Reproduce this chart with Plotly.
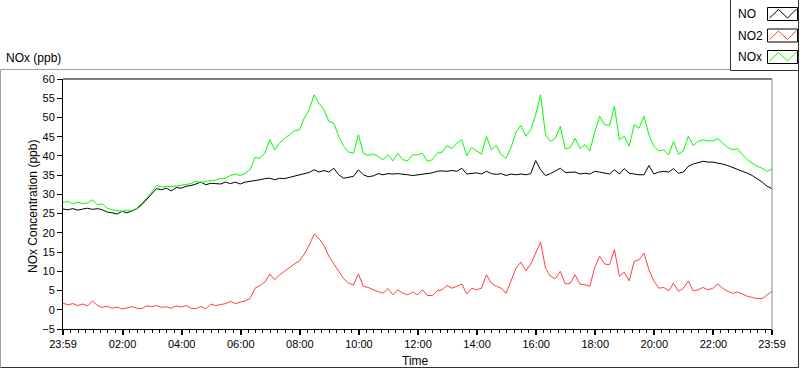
import pandas as pd
import plotly.graph_objects as go

# ---------------- data ----------------
start_time = "2024-01-01 23:59"
end_time = "2024-01-02 23:59"
n_points = 145  # one reading every 10 minutes

no_ppb = [
    26.2, 26.0, 26.3, 25.9, 26.2, 26.4, 26.1, 26.3, 26.0, 25.4, 25.2, 24.9, 25.6, 25.2, 25.7, 26.3, 27.3, 28.6,
    30.1, 31.5, 31.2, 31.6, 30.9, 31.8, 31.6, 32.1, 32.3, 32.7, 33.2, 32.5, 32.9, 32.8, 32.7, 33.2, 32.8, 33.2,
    32.7, 33.2, 33.4, 33.5, 33.8, 34.1, 34.2, 33.8, 34.2, 34.1, 34.4, 34.7, 35.1, 35.3, 35.7, 36.4, 35.8, 36.2,
    35.8, 36.8, 35.1, 34.2, 34.4, 34.7, 36.4, 35.1, 34.6, 34.8, 35.4, 35.1, 35.4, 35.3, 35.4, 35.3, 35.1, 34.9,
    35.1, 35.3, 35.4, 35.6, 36.0, 36.1, 36.0, 36.2, 36.0, 36.8, 35.3, 35.4, 35.6, 35.3, 36.0, 35.4, 35.2, 35.4,
    34.9, 35.3, 35.1, 35.3, 35.1, 35.4, 38.8, 36.4, 34.9, 35.4, 36.0, 36.8, 35.7, 35.8, 35.8, 35.3, 35.5, 35.3,
    36.0, 35.8, 35.5, 35.3, 36.4, 35.3, 36.7, 35.5, 35.3, 35.1, 35.1, 37.5, 35.3, 35.8, 36.0, 35.8, 36.7, 35.5,
    35.8, 37.3, 37.9, 38.2, 38.6, 38.4, 38.4, 38.1, 37.9, 37.5, 37.0, 36.7, 36.1, 35.5, 34.9, 34.1, 33.2, 32.1,
    31.5,
]

no2_ppb = [
    1.7, 1.3, 1.6, 1.1, 1.5, 1.0, 2.3, 1.1, 0.6, 0.9, 0.4, 0.7, 0.2, 0.5, 0.8, 0.4, 0.3, 1.0,
    0.8, 1.1, 0.6, 0.8, 0.4, 1.0, 0.7, 1.1, 0.4, 0.3, 0.9, 0.2, 1.5, 1.1, 1.3, 1.6, 2.2, 1.6,
    2.0, 2.3, 2.9, 5.6, 6.3, 7.2, 9.3, 7.8, 9.1, 10.1, 11.0, 11.9, 12.7, 14.5, 16.7, 19.7, 18.5, 16.7,
    13.9, 12.1, 10.0, 8.1, 6.9, 6.5, 9.3, 6.1, 5.8, 5.2, 4.8, 4.3, 5.5, 3.9, 5.2, 4.3, 3.9, 4.6,
    3.9, 5.2, 3.7, 3.7, 4.9, 5.2, 6.3, 5.6, 6.1, 6.7, 4.1, 5.6, 5.2, 5.6, 9.1, 6.9, 6.1, 5.6,
    4.3, 7.4, 10.8, 12.4, 10.1, 11.9, 14.7, 17.6, 10.8, 8.7, 8.1, 10.0, 6.7, 6.9, 9.1, 6.7, 6.5, 6.1,
    11.0, 13.9, 11.9, 11.7, 15.6, 8.7, 9.8, 7.5, 12.6, 13.0, 14.7, 10.4, 7.5, 5.6, 5.8, 4.9, 6.9, 4.8,
    5.6, 7.5, 4.9, 5.2, 5.8, 5.2, 5.6, 6.7, 5.6, 4.8, 4.3, 4.6, 4.1, 3.5, 3.2, 2.9, 2.9, 3.9,
    4.8,
]

nox_ppb = [
    27.9, 28.2, 27.5, 28.0, 27.6, 27.8, 28.6, 27.3, 27.5, 26.4, 26.0, 25.7, 25.6, 25.9, 25.6, 26.4, 27.6, 29.0,
    30.6, 32.3, 31.9, 32.1, 32.0, 32.2, 32.3, 32.5, 32.8, 33.4, 33.1, 33.4, 33.5, 33.7, 34.1, 34.2, 34.9, 35.3,
    34.9, 35.5, 36.4, 39.6, 39.4, 40.7, 44.2, 41.6, 43.3, 44.6, 45.5, 46.5, 46.8, 49.8, 52.0, 55.9, 53.7, 52.0,
    49.0, 48.5, 45.1, 42.5, 41.0, 40.7, 45.5, 40.7, 40.1, 40.5, 39.9, 39.0, 40.3, 38.7, 40.7, 39.0, 38.7, 40.3,
    40.3, 40.7, 38.6, 39.0, 40.7, 41.0, 42.7, 41.9, 43.3, 44.2, 40.1, 42.2, 41.3, 40.5, 45.1, 41.6, 42.7, 40.3,
    39.4, 42.2, 46.2, 47.9, 45.1, 46.8, 50.7, 55.9, 45.5, 43.8, 44.6, 47.7, 41.9, 42.1, 44.6, 41.9, 42.9, 41.3,
    46.2, 50.3, 48.1, 47.9, 52.9, 44.2, 45.1, 42.5, 48.1, 47.2, 50.3, 45.5, 42.5, 41.3, 41.6, 40.3, 43.8, 40.5,
    41.3, 45.1, 42.7, 43.8, 44.2, 43.9, 43.9, 44.5, 43.3, 42.2, 41.6, 41.9, 40.3, 39.0, 38.1, 37.3, 36.8, 36.0,
    36.6,
]

series_names = ["NO", "NO2", "NOx"]
series_colors = ["#000000", "#ff4040", "#00ff00"]
tick_labels = ["23:59", "02:00", "04:00", "06:00", "08:00", "10:00", "12:00",
               "14:00", "16:00", "18:00", "20:00", "22:00", "23:59"]

# ---------------- figure ----------------
times = pd.date_range(start_time, periods=n_points, freq="10min")
t0, t1 = pd.Timestamp(start_time), pd.Timestamp(end_time)
tick_vals = [t0] + list(pd.date_range("2024-01-02 02:00", "2024-01-02 22:00", freq="2h")) + [t1]
minor_vals = list(pd.date_range("2024-01-02 00:00", "2024-01-02 23:45", freq="15min"))

fig = go.Figure()
for name, color, vals in zip(series_names, series_colors, [no_ppb, no2_ppb, nox_ppb]):
    fig.add_trace(go.Scatter(x=times, y=vals, mode="lines", name=name,
                             line=dict(color=color, width=1), hoverinfo="skip"))

W, H = 800, 369
L, R, T, B = 63, 28, 79, 40
PW, PH = W - L - R, H - T - B


def px(xp):
    return (xp - L) / PW


def py(yp):
    return (H - B - yp) / PH


font = "Liberation Sans, Arial, sans-serif"

fig.update_layout(
    width=W, height=H,
    margin=dict(l=L, r=R, t=T, b=B, pad=0),
    paper_bgcolor="white", plot_bgcolor="white",
    showlegend=False,
    font=dict(family=font, size=11, color="#000000"),
    xaxis=dict(
        type="date", range=[t0, t1],
        tickmode="array", tickvals=tick_vals, ticktext=tick_labels,
        ticks="outside", ticklen=5, tickwidth=2, tickcolor="#000000",
        minor=dict(tickmode="array", tickvals=minor_vals, ticks="outside", ticklen=3,
                   tickwidth=1, tickcolor="#000000", showgrid=False),
        showline=True, linecolor="#000000", linewidth=1,
        showgrid=False, zeroline=False,
        tickfont=dict(family=font, size=11, color="#000000"),
    ),
    yaxis=dict(
        range=[-5, 60], tickmode="linear", tick0=-5, dtick=5,
        ticks="outside", ticklen=5, tickwidth=1, tickcolor="#000000",
        showline=True, linecolor="#000000", linewidth=1,
        showgrid=False, zeroline=False,
        tickfont=dict(family=font, size=11, color="#000000"),
    ),
)

shapes = []
# plot frame: top black, right grey
shapes.append(dict(type="line", xref="paper", yref="paper", x0=0, x1=1, y0=1, y1=1,
                   line=dict(color="#000000", width=1)))
shapes.append(dict(type="line", xref="paper", yref="paper", x0=1, x1=1, y0=0, y1=1,
                   line=dict(color="#8c8c8c", width=1)))
# outer panel frame
fx0, fx1, fy0, fy1 = px(0.5), px(798.5), py(69.5), py(367.5)
shapes.append(dict(type="line", xref="paper", yref="paper", x0=fx0, x1=fx1, y0=fy0, y1=fy0,
                   line=dict(color="#a0a0a0", width=1)))
shapes.append(dict(type="line", xref="paper", yref="paper", x0=fx0, x1=fx0, y0=fy0, y1=fy1,
                   line=dict(color="#a0a0a0", width=1)))
shapes.append(dict(type="line", xref="paper", yref="paper", x0=fx1, x1=fx1, y0=fy0, y1=fy1,
                   line=dict(color="#303030", width=1)))
shapes.append(dict(type="line", xref="paper", yref="paper", x0=fx0, x1=fx1, y0=fy1, y1=fy1,
                   line=dict(color="#303030", width=1)))
# legend box
shapes.append(dict(type="rect", xref="paper", yref="paper", x0=px(730.5), x1=px(798.5),
                   y0=py(-2), y1=py(70.5), fillcolor="white",
                   line=dict(color="#303030", width=1)))

annotations = []
legend_rows = [14, 35.5, 57]
for (name, color, yc) in zip(series_names, series_colors, legend_rows):
    annotations.append(dict(xref="paper", yref="paper", x=px(736), y=py(yc), text=name,
                            showarrow=False, xanchor="left", yanchor="middle",
                            font=dict(family=font, size=12, color="#000000")))
    bx0, bx1 = 767.5, 797.5
    by0, by1 = yc - 6.5, yc + 6.5
    shapes.append(dict(type="rect", xref="paper", yref="paper", x0=px(bx0), x1=px(bx1),
                       y0=py(by0), y1=py(by1), fillcolor="white",
                       line=dict(color="#000000", width=1)))
    zx = [bx0 + 2, bx0 + 11, bx0 + 20, bx0 + 29]
    zy = [by1 - 2.5, by0 + 2, by1 - 2.5, by0 + 1.5]
    path = "M {} {} L {} {} L {} {} L {} {}".format(
        px(zx[0]), py(zy[0]), px(zx[1]), py(zy[1]), px(zx[2]), py(zy[2]), px(zx[3]), py(zy[3]))
    shapes.append(dict(type="path", xref="paper", yref="paper", path=path,
                       line=dict(color=color, width=1)))

annotations.append(dict(xref="paper", yref="paper", x=px(4), y=py(58), text="NOx (ppb)",
                        showarrow=False, xanchor="left", yanchor="middle",
                        font=dict(family=font, size=12, color="#000000")))
annotations.append(dict(xref="paper", yref="paper", x=px(33), y=py(207), text="NOx Concentration (ppb)",
                        showarrow=False, textangle=-90, xanchor="center", yanchor="middle",
                        font=dict(family=font, size=12, color="#000000")))
annotations.append(dict(xref="paper", yref="paper", x=px(415), y=py(361), text="Time",
                        showarrow=False, xanchor="center", yanchor="middle",
                        font=dict(family=font, size=12, color="#000000")))

fig.update_layout(shapes=shapes, annotations=annotations)

fig.write_html("out.html", config={"displayModeBar": False},
               post_script="document.body.style.margin='0';document.body.style.overflow='hidden';")
